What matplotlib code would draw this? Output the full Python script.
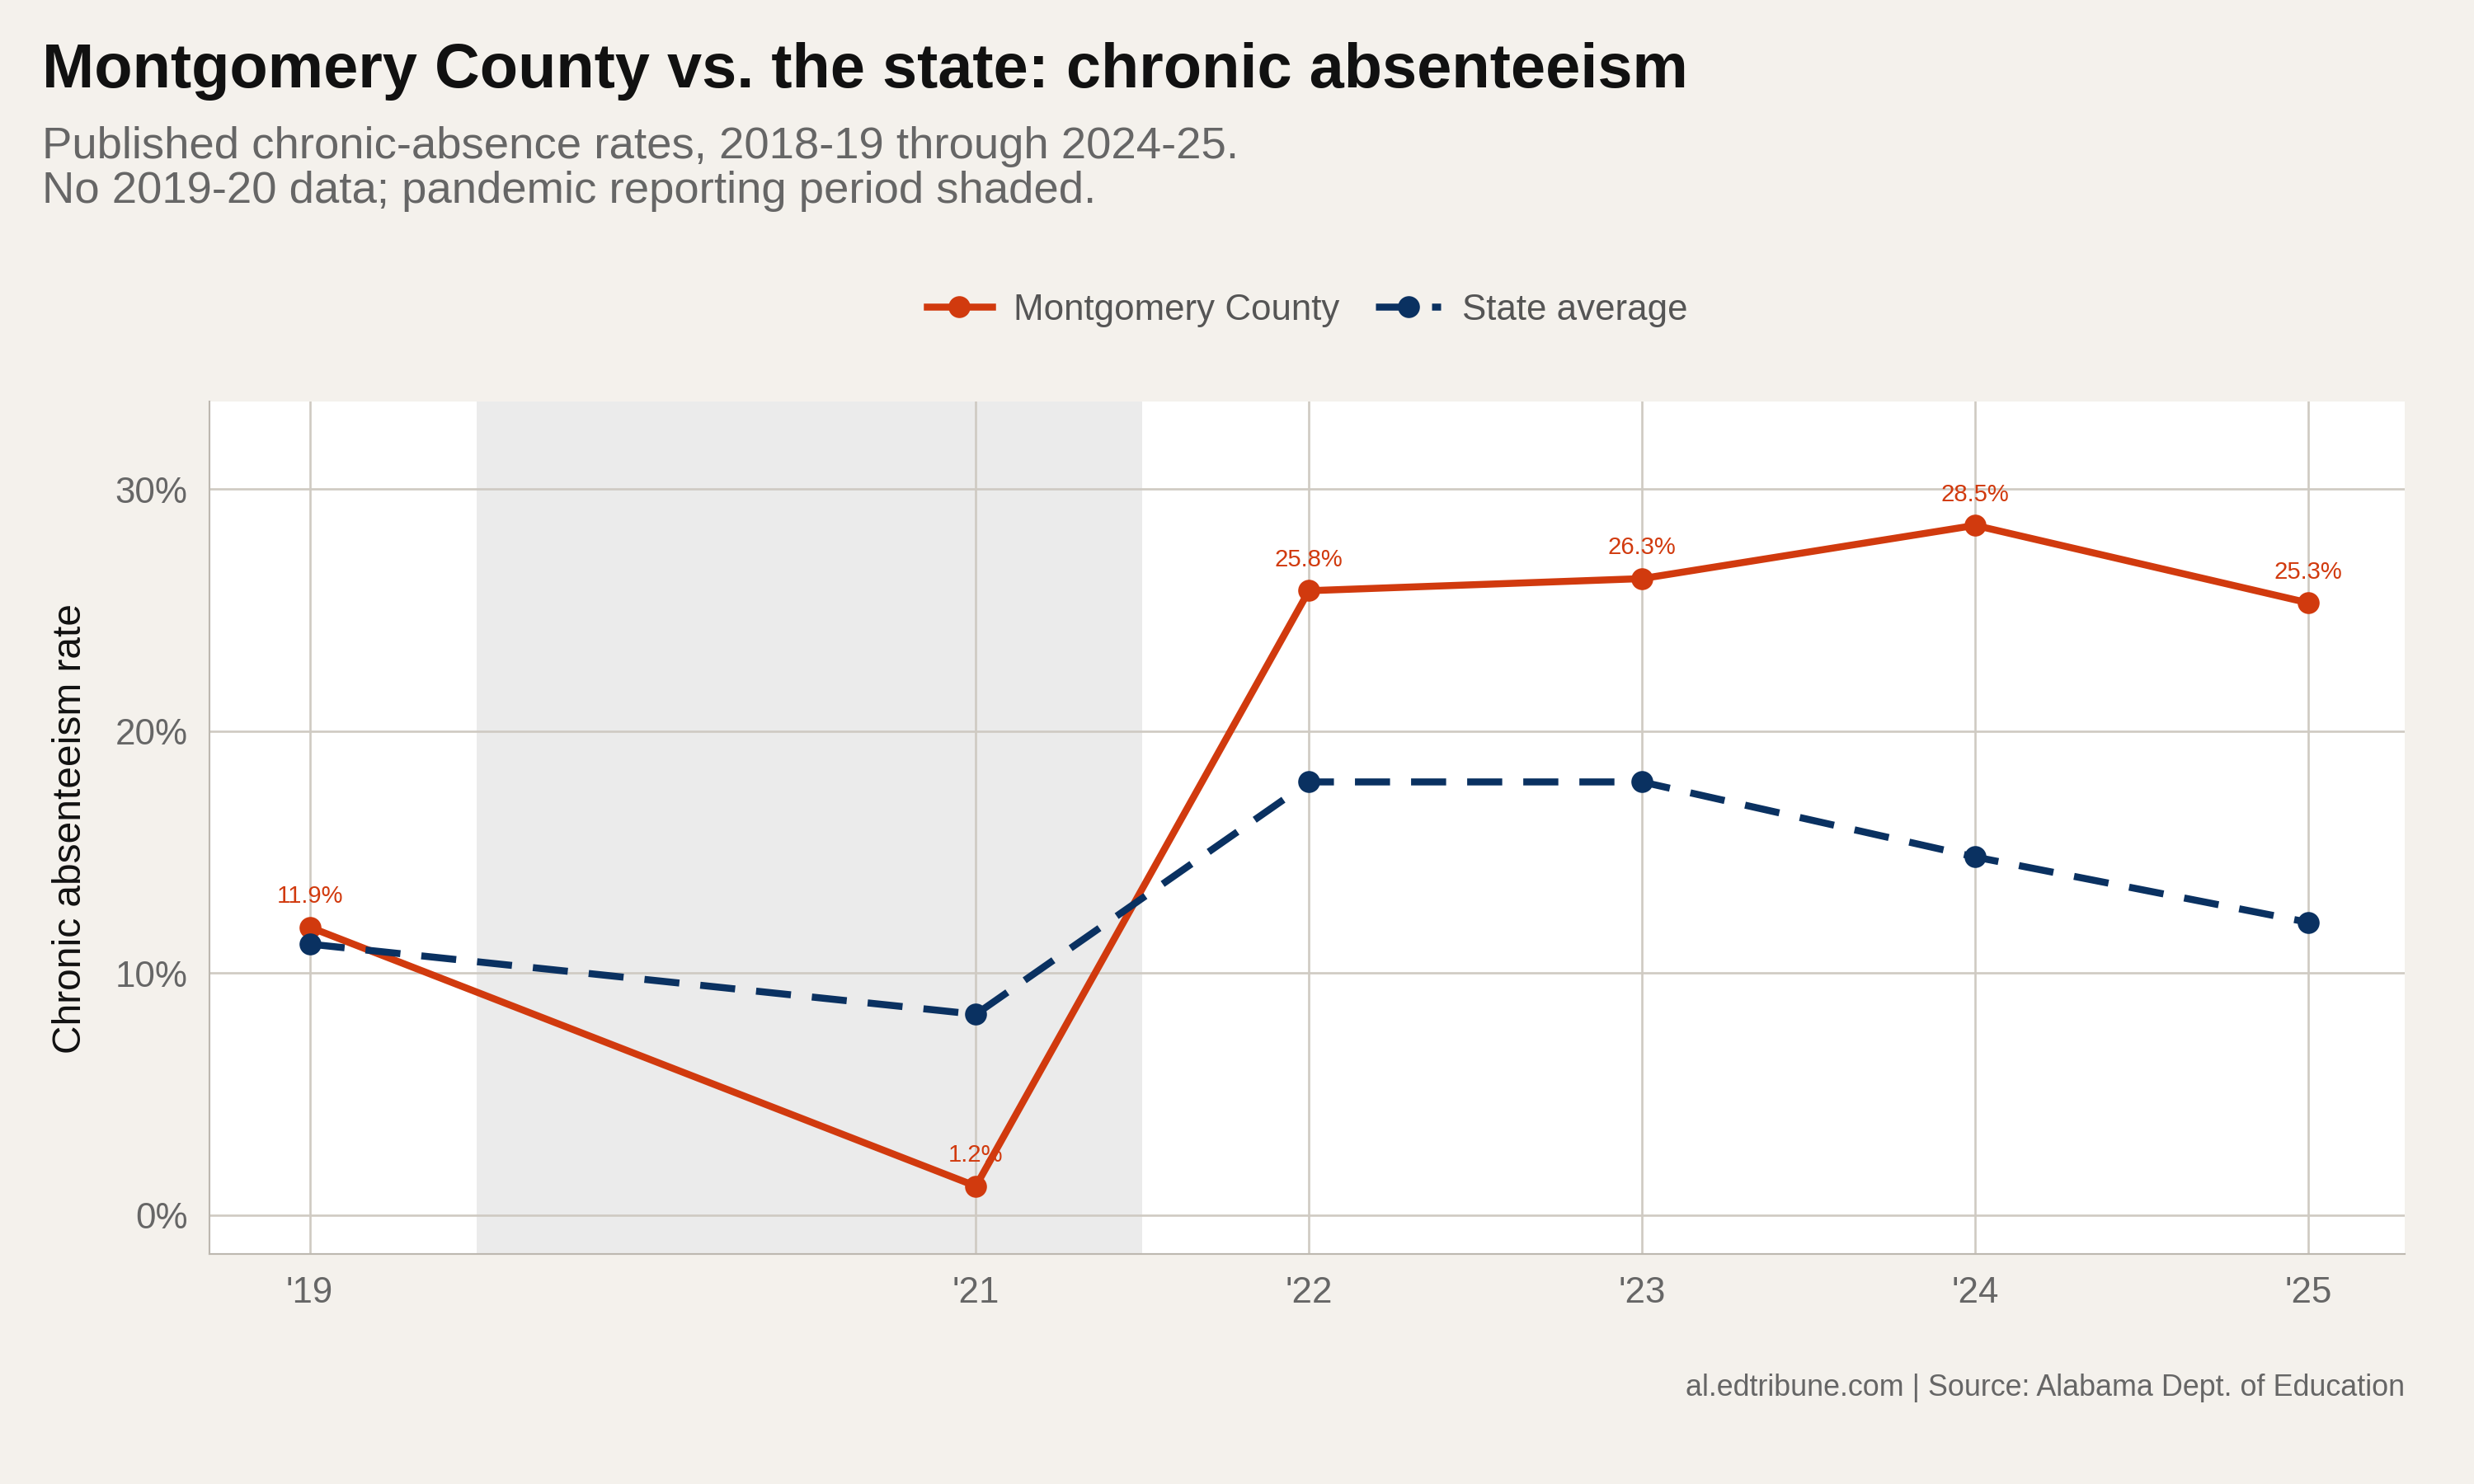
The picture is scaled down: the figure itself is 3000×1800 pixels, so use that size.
import matplotlib
matplotlib.use("Agg")
import matplotlib.pyplot as plt
from matplotlib.ticker import FuncFormatter

years = [2019, 2021, 2022, 2023, 2024, 2025]
tick_labels = ["'19", "'21", "'22", "'23", "'24", "'25"]
montgomery = [11.9, 1.2, 25.8, 26.3, 28.5, 25.3]
state = [11.2, 8.3, 17.9, 17.9, 14.8, 12.1]

BG = '#F4F1EC'
ORANGE = '#D13A0E'
NAVY = '#0A3161'
GRID = '#CFCAC2'

plt.rcParams['font.family'] = ['Liberation Sans', 'DejaVu Sans']

fig = plt.figure(figsize=(15.68, 9.41), dpi=191.33, facecolor=BG)
ax = fig.add_axes([0.0848, 0.155, 0.8872, 0.574])
ax.set_facecolor('white')

ax.axvspan(2019.5, 2021.5, color='#EBEBEB', zorder=0, lw=0)

ax.plot(years, montgomery, color=ORANGE, lw=3.2, marker='o', ms=9, zorder=3,
        label='Montgomery County')
ax.plot(years, state, color=NAVY, lw=3.2, ls=(0, (5, 3)), marker='o', ms=9, zorder=3,
        label='State average')

for x, v in zip(years, montgomery):
    ax.annotate(f'{v:.1f}%', (x, v), xytext=(0, 9), textcoords='offset points',
                ha='center', va='bottom', fontsize=11, color=ORANGE, zorder=4)

ax.set_xlim(2018.7, 2025.29)
ax.set_ylim(-1.6, 33.6)
ax.set_xticks(years)
ax.set_xticklabels(tick_labels)
ax.set_yticks([0, 10, 20, 30])
ax.yaxis.set_major_formatter(FuncFormatter(lambda v, p: f'{v:.0f}%'))
ax.grid(True, color=GRID, lw=1, zorder=1)
ax.set_axisbelow(True)
ax.tick_params(length=0, labelsize=16.5, labelcolor='#666666', pad=10)
for s in ['top', 'right']:
    ax.spines[s].set_visible(False)
for s in ['left', 'bottom']:
    ax.spines[s].set_color('#BDB8B0')
ax.set_ylabel('Chronic absenteeism rate', fontsize=18, color='#111111', labelpad=12)

ax.legend(loc='lower center', bbox_to_anchor=(0.5, 1.05), ncol=2, frameon=False,
          fontsize=16.5, labelcolor='#555555', handlelength=1.8, columnspacing=1.0,
          handletextpad=0.6)

fig.text(0.017, 0.952, 'Montgomery County vs. the state: chronic absenteeism',
         fontsize=28.5, fontweight='bold', color='#111111', va='center')
fig.text(0.017, 0.886, 'Published chronic-absence rates, 2018-19 through 2024-25.\n'
         'No 2019-20 data; pandemic reporting period shaded.',
         fontsize=20.5, color='#666666', va='center', linespacing=1.1)
fig.text(0.972, 0.065, 'al.edtribune.com | Source: Alabama Dept. of Education',
         fontsize=13.5, color='#666666', ha='right', va='center')

fig.savefig('out.png', dpi=191.33, facecolor=BG)
